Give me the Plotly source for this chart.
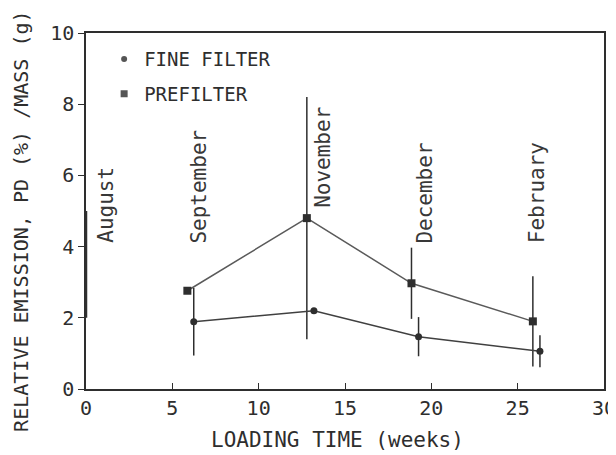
import plotly.graph_objects as go

# data
fine_x = [6.24, 13.2, 19.26, 26.29]
fine_y = [1.89, 2.2, 1.47, 1.06]
fine_err = [0.95, 0.0, 0.55, 0.45]

pre_x = [5.87, 12.79, 18.85, 25.88]
pre_y = [2.76, 4.8, 2.97, 1.9]
pre_err = [0.0, 3.4, 1.0, 1.27]

aug_x = [0.0]
aug_y = [3.5]
aug_err = [1.5]

month_names = ["August", "September", "November", "December", "February"]
month_x = [1.19, 6.57, 13.75, 19.63, 26.09]
month_y = [4.04, 4.04, 5.03, 4.04, 4.04]

x_ticks = [0, 5, 10, 15, 20, 25, 30]
y_ticks = [0, 2, 4, 6, 8, 10]

INK = "#2e2e2e"
FONT = "DejaVu Sans Mono"

fig = go.Figure()

# August: bar lying on the y axis
fig.add_trace(
    go.Scatter(
        x=aug_x,
        y=aug_y,
        mode="markers",
        marker=dict(size=1, color=INK, opacity=0),
        error_y=dict(type="data", array=aug_err, color=INK, thickness=2.5, width=0),
        showlegend=False,
        hoverinfo="skip",
        cliponaxis=False,
    )
)

fig.add_trace(
    go.Scatter(
        x=pre_x,
        y=pre_y,
        mode="lines+markers",
        line=dict(color="#5a5a5a", width=1.5),
        marker=dict(symbol="square", size=8, color=INK),
        error_y=dict(type="data", array=pre_err, color=INK, thickness=1.5, width=0),
        showlegend=False,
    )
)

fig.add_trace(
    go.Scatter(
        x=fine_x,
        y=fine_y,
        mode="lines+markers",
        line=dict(color="#404040", width=1.5),
        marker=dict(symbol="circle", size=7, color=INK),
        error_y=dict(type="data", array=fine_err, color=INK, thickness=1.5, width=0),
        showlegend=False,
    )
)

# legend entries (markers only, as in the original)
fig.add_trace(
    go.Scatter(
        x=[None], y=[None], mode="markers", name="FINE FILTER",
        legendgroup="fine",
        marker=dict(symbol="circle", size=6, color="#555555"),
    )
)
fig.add_trace(
    go.Scatter(
        x=[None], y=[None], mode="markers", name="PREFILTER",
        legendgroup="pre",
        marker=dict(symbol="square", size=7, color="#555555"),
    )
)

for name, mx, my in zip(month_names, month_x, month_y):
    fig.add_annotation(
        x=mx, y=my, text=name, textangle=-90,
        xanchor="center", yanchor="bottom", showarrow=False,
        font=dict(family=FONT, size=21, color="#383838"),
    )

# axis titles as free annotations so they sit where the original has them
fig.add_annotation(
    xref="paper", yref="paper", x=0.486, y=-0.143,
    text="LOADING TIME (weeks)", showarrow=False,
    xanchor="center", yanchor="middle",
    font=dict(family=FONT, size=21, color=INK),
)
fig.add_annotation(
    xref="paper", yref="paper", x=-0.127, y=0.47,
    text="RELATIVE EMISSION, PD (%) /MASS (g)", showarrow=False,
    textangle=-90, xanchor="center", yanchor="middle",
    font=dict(family=FONT, size=20, color=INK),
)

axis_common = dict(
    showline=True,
    linewidth=1.5,
    linecolor=INK,
    mirror=True,
    showgrid=False,
    zeroline=False,
    automargin=False,
    ticklabeloverflow="allow",
    ticklen=6,
    tickwidth=1.3,
    tickcolor=INK,
    tickfont=dict(family=FONT, size=20, color=INK),
)

# the page body adds an 8px offset, so the margins are shifted to compensate
fig.update_layout(
    width=616,
    height=455,
    paper_bgcolor="white",
    plot_bgcolor="white",
    margin=dict(l=78, r=20, t=25, b=74),
    font=dict(family=FONT, color=INK),
    xaxis=dict(**axis_common, range=[0, 30], tickvals=x_ticks, ticks="inside"),
    yaxis=dict(**axis_common, range=[0, 10], tickvals=y_ticks, ticks="outside"),
    legend=dict(
        x=0.035, y=0.98, xanchor="left", yanchor="top",
        bgcolor="rgba(0,0,0,0)",
        font=dict(family=FONT, size=19, color=INK),
        itemsizing="trace",
        tracegroupgap=7,
    ),
)

fig.write_html("out.html")
